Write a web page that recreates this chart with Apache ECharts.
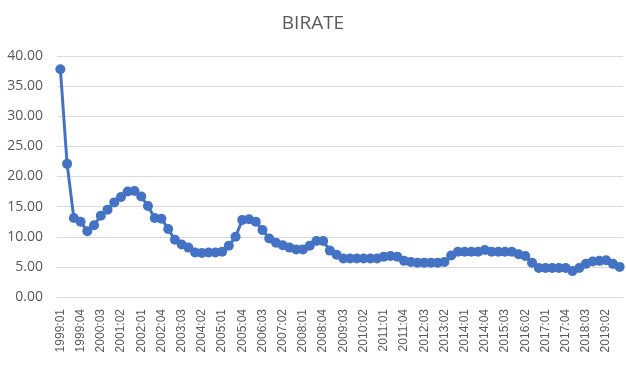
<!DOCTYPE html>
<html>
<head>
<meta charset="utf-8">
<script src="https://cdn.jsdelivr.net/npm/echarts@6/dist/echarts.min.js"></script>
<style>
  html, body {margin: 0; padding: 0; background: #fff;}
  #chart {width: 626px; height: 378px;}
</style>
</head>
<body>
<div id="chart"></div>
<script>
const title = 'BIRATE';
const firstYear = 1999;
const lastYear = 2019;
const birate = [
    37.8, 22.1, 13.1, 12.5, 10.9, 11.9, 13.5, 14.5, 15.7, 16.6, 17.5, 17.6,
    16.7, 15.1, 13.1, 13.0, 11.3, 9.5, 8.7, 8.2, 7.4, 7.3, 7.4, 7.4,
    7.5, 8.5, 10.0, 12.8, 12.9, 12.5, 11.1, 9.7, 9.0, 8.6, 8.2, 7.9,
    7.9, 8.5, 9.3, 9.3, 7.7, 7.0, 6.4, 6.4, 6.4, 6.4, 6.4, 6.4,
    6.7, 6.8, 6.7, 6.0, 5.8, 5.7, 5.7, 5.7, 5.7, 5.8, 6.9, 7.5,
    7.5, 7.5, 7.5, 7.8, 7.5, 7.5, 7.5, 7.5, 7.1, 6.8, 5.7, 4.8,
    4.8, 4.8, 4.8, 4.8, 4.3, 4.8, 5.5, 5.9, 6.0, 6.1, 5.5, 5.0
];

const quarters = [];
for (let y = firstYear; y <= lastYear; y++) {
    for (let q = 1; q <= 4; q++) {
        quarters.push(y + ':0' + q);
    }
}

const chart = echarts.init(document.getElementById('chart'));
const grey = '#595959';

chart.setOption({
    animation: false,
    title: {
        text: title,
        left: 'center',
        top: 9,
        textStyle: {
            fontFamily: 'Open Sans',
            fontSize: 19,
            fontWeight: 'normal',
            color: grey,
        },
    },
    grid: {
        left: 57,
        right: 3,
        top: 56,
        bottom: 81,
    },
    xAxis: {
        type: 'category',
        data: quarters,
        boundaryGap: true,
        axisLine: {lineStyle: {color: '#d9d9d9', width: 1}},
        axisTick: {show: false},
        axisLabel: {
            interval: 2,
            rotate: 90,
            margin: 12,
            fontFamily: 'Liberation Sans',
            fontSize: 12,
            color: grey,
        },
    },
    yAxis: {
        type: 'value',
        min: 0,
        max: 40,
        interval: 5,
        axisLine: {show: false},
        axisTick: {show: false},
        splitLine: {lineStyle: {color: '#d9d9d9', width: 1}},
        axisLabel: {
            margin: 14,
            fontFamily: 'Open Sans',
            fontSize: 14,
            color: grey,
            formatter: v => v.toFixed(2),
        },
    },
    series: [
        {
            name: title,
            type: 'line',
            data: birate,
            symbol: 'circle',
            symbolSize: 10,
            showAllSymbol: true,
            lineStyle: {color: '#4472c4', width: 3},
            itemStyle: {color: '#4472c4'},
        },
    ],
});
</script>
</body>
</html>
